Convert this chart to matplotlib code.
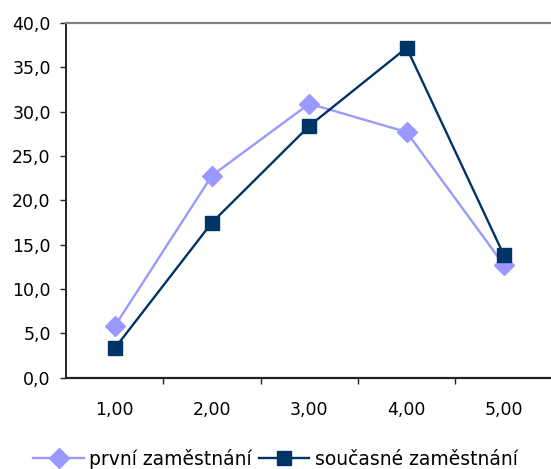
import matplotlib
matplotlib.use("Agg")
import matplotlib.pyplot as plt
from matplotlib.ticker import FixedLocator

categories = ["1,00", "2,00", "3,00", "4,00", "5,00"]
prvni = [5.8, 22.8, 30.9, 27.7, 12.7]
soucasne = [3.3, 17.5, 28.4, 37.2, 13.8]
y_ticks = [0, 5, 10, 15, 20, 25, 30, 35, 40]
y_labels = ["0,0", "5,0", "10,0", "15,0", "20,0", "25,0", "30,0", "35,0", "40,0"]
series_names = ["první zaměstnání", "současné zaměstnání"]

plt.rcParams['font.family'] = ['DejaVu Sans']
FS = 12.5

fig = plt.figure(figsize=(5.51, 4.69), dpi=100)
ax = fig.add_axes([66/551, (469-377.7)/469, 1.003 - 66/551, (377.7-23)/469])

x = list(range(1, len(categories) + 1))
ax.plot(x, prvni, color='#9999FF', lw=1.7, marker='D', markersize=10.5,
        markerfacecolor='#9999FF', markeredgecolor='#9999FF', label=series_names[0], zorder=3)
ax.plot(x, soucasne, color='#003366', lw=1.7, marker='s', markersize=10.5,
        markerfacecolor='#003366', markeredgecolor='#003366', label=series_names[1], zorder=4)

ax.set_xlim(0.5, len(categories) + 0.5)
ax.set_ylim(0, 40)
ax.set_yticks(y_ticks)
ax.set_yticklabels(y_labels)
ax.set_xticks(x)
ax.set_xticklabels(categories)
ax.xaxis.set_minor_locator(FixedLocator([i + 0.5 for i in range(1, len(categories))]))
ax.tick_params(axis='x', which='major', length=0, pad=17, labelsize=FS)
ax.tick_params(axis='x', which='minor', length=4.5, width=1, direction='out', color='#222222')
ax.tick_params(axis='y', length=4.5, width=1, direction='out', pad=6.5, labelsize=FS, color='#222222')

ax.spines['right'].set_visible(False)
ax.spines['top'].set_color('#808080')
ax.spines['top'].set_linewidth(1.6)
ax.spines['left'].set_color('#222222')
ax.spines['left'].set_linewidth(1.4)
ax.spines['bottom'].set_color('#222222')
ax.spines['bottom'].set_linewidth(1.6)

fig.legend(loc='center', bbox_to_anchor=(0.5, (469-459)/469), ncol=2, frameon=False,
           fontsize=13.5, handlelength=2.7, handletextpad=0.3, columnspacing=0.35,
           markerscale=1.0)

fig.savefig("out.png", dpi=100)
